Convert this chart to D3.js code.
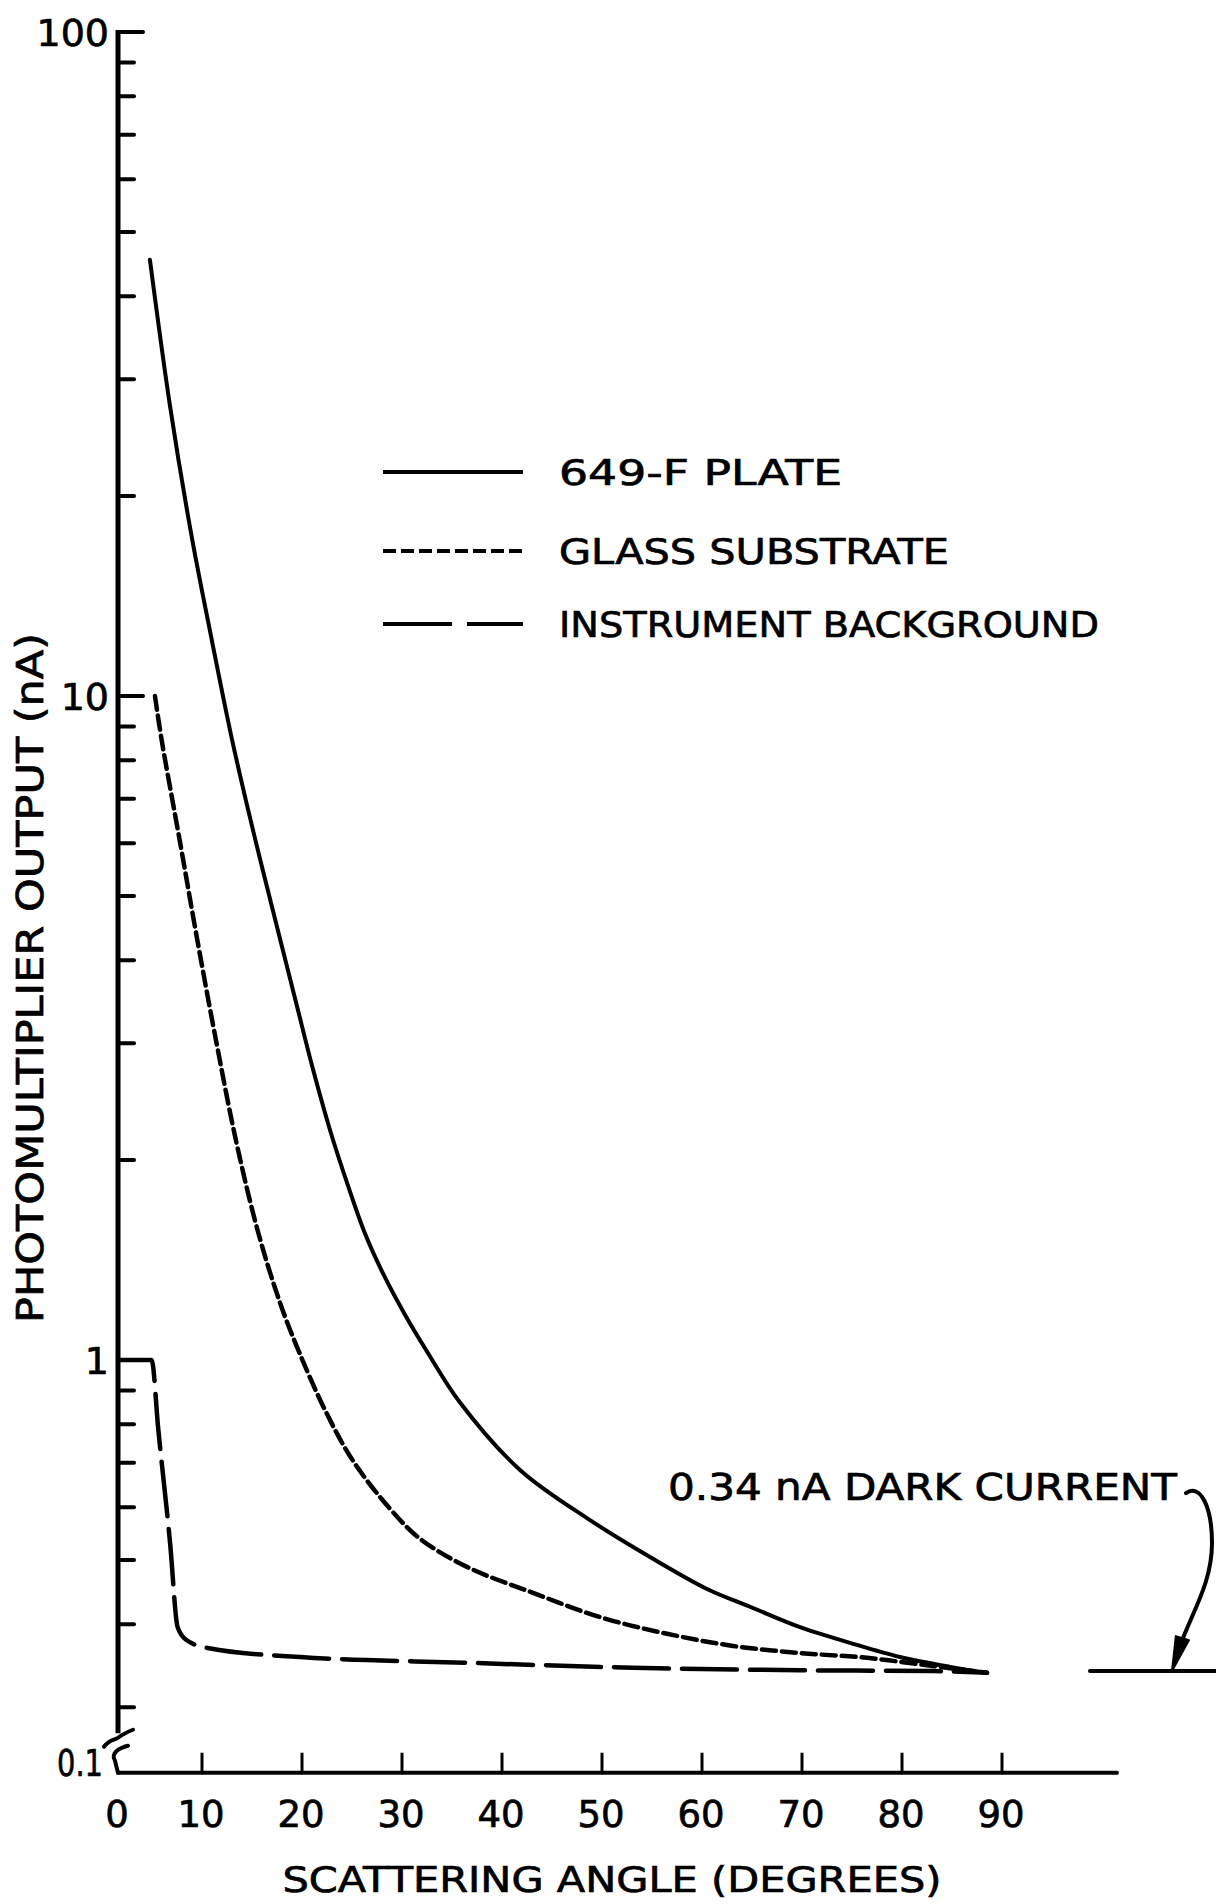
<!DOCTYPE html>
<html>
<head>
<meta charset="utf-8">
<script src="https://cdn.jsdelivr.net/npm/d3@7"></script>
<style>
  body { margin: 0; background: #fff; }
  text { font-family: "DejaVu Sans", sans-serif; fill: #000; stroke: #000; stroke-width: 0.7px; }
</style>
</head>
<body>
<div id="chart"></div>
<script>
// photomultiplier output (nA) against scattering angle (degrees)
const plateAngles = [3.8, 6.2, 8.8, 11.0, 12.9, 14.5, 16.1, 17.8, 19.5, 21.1, 22.8, 24.6, 26.3, 28.1, 30.3, 32.5, 35.8, 41.8, 48.8, 54.8, 60.5, 64.8, 69.8, 74.8, 79.8, 84.8, 88.5];
const plateValues = [45.4, 27.3, 17.3, 12.1, 8.74, 6.85, 5.45, 4.31, 3.41, 2.74, 2.22, 1.83, 1.55, 1.35, 1.17, 1.03, 0.863, 0.683, 0.574, 0.505, 0.452, 0.425, 0.396, 0.375, 0.357, 0.345, 0.338];

const glassAngles = [4.4, 5.2, 7.4, 9.4, 11.4, 13.4, 15.6, 17.8, 19.8, 22.5, 25.1, 28.8, 31.8, 36.5, 43.1, 49.8, 56.5, 63.1, 69.8, 76.5, 83.1, 88.5];
const glassValues = [10.0, 8.58, 6.01, 4.32, 3.03, 2.14, 1.56, 1.22, 1.02, 0.829, 0.705, 0.597, 0.538, 0.488, 0.446, 0.410, 0.387, 0.371, 0.362, 0.356, 0.346, 0.338];

const backgroundAngles = [0, 4.0, 4.8, 6.2, 7.1, 8.1, 10.7, 19.8, 36.5, 53.1, 69.8, 83.1, 88.5];
const backgroundValues = [1.0, 1.0, 0.785, 0.53, 0.396, 0.379, 0.368, 0.357, 0.350, 0.344, 0.341, 0.340, 0.338];

const darkCurrent = 0.34;
const darkCurrentAngles = [98.8, 111.5];
const darkArrowAngle = 107.0;

const xTickValues = [0, 10, 20, 30, 40, 50, 60, 70, 80, 90];
const xAxisEnd = 101.5;
const yMajorTicks = [100, 10, 1];
const yMinorTicks = [0.3, 0.4, 0.5, 0.6, 0.7, 0.8, 0.9, 2, 3, 4, 5, 6, 7, 8, 9, 20, 30, 40, 50, 60, 70, 80, 90];
const yFloor = 0.239;
const yFloorLabel = "0.1";
const yBreakTop = 0.274;

const legendLabels = ["649-F PLATE", "GLASS SUBSTRATE", "INSTRUMENT BACKGROUND"];
const xTitle = "SCATTERING ANGLE (DEGREES)";
const yTitle = "PHOTOMULTIPLIER OUTPUT (nA)";
const darkCurrentLabel = "0.34 nA DARK CURRENT";

const svgWidth = 1216;
const svgHeight = 1904;

const svg = d3.select("#chart")
  .append("svg")
  .attr("width", svgWidth)
  .attr("height", svgHeight);

// hand drawn axis: 0-10 is a bit shorter than the other decades of degrees
const xScale = d3.scaleLinear().domain([0, 10, 90]).range([118, 202, 1002]);
const yScale = d3.scaleLog().domain([1, 100]).range([1360, 32]);

const x0 = xScale(0);
const yF = yScale(yFloor);

// y axis with a break above 0.1
svg.append("line")
  .attr("x1", x0).attr("x2", x0)
  .attr("y1", yScale(100) - 2).attr("y2", yScale(yBreakTop))
  .attr("stroke", "#000").attr("stroke-width", 5);

svg.append("path")
  .attr("d", `M${x0 - 14},${yF - 26} C${x0 - 8},${yF - 34} ${x0 - 4},${yF - 32} ${x0},${yF - 35} S${x0 + 10},${yF - 41} ${x0 + 15},${yF - 43}`)
  .attr("fill", "none").attr("stroke", "#000").attr("stroke-width", 4).attr("stroke-linecap", "round");

svg.append("path")
  .attr("d", `M${x0 + 10},${yF - 27} C${x0 + 2},${yF - 25} ${x0 - 8},${yF - 20} ${x0 - 3},${yF - 12} L${x0},${yF}`)
  .attr("fill", "none").attr("stroke", "#000").attr("stroke-width", 4).attr("stroke-linecap", "round");

svg.selectAll(".ymajor")
  .data(yMajorTicks)
  .enter().append("line")
  .attr("class", "ymajor")
  .attr("x1", x0).attr("x2", x0 + 25)
  .attr("y1", d => yScale(d)).attr("y2", d => yScale(d))
  .attr("stroke", "#000").attr("stroke-width", 4).attr("stroke-linecap", "round");

svg.selectAll(".yminor")
  .data(yMinorTicks)
  .enter().append("line")
  .attr("class", "yminor")
  .attr("x1", x0).attr("x2", x0 + 16)
  .attr("y1", d => yScale(d)).attr("y2", d => yScale(d))
  .attr("stroke", "#000").attr("stroke-width", 4).attr("stroke-linecap", "round");

svg.selectAll(".ylabel")
  .data(yMajorTicks)
  .enter().append("text")
  .attr("class", "ylabel")
  .attr("x", x0 - 9)
  .attr("y", d => yScale(d))
  .attr("dy", "0.36em")
  .attr("text-anchor", "end")
  .attr("font-size", 38)
  .text(d => d3.format("d")(d));

svg.append("text")
  .attr("x", x0 - 15)
  .attr("y", yF + 3)
  .attr("text-anchor", "end")
  .attr("font-size", 37)
  .attr("textLength", 46)
  .attr("lengthAdjust", "spacingAndGlyphs")
  .text(yFloorLabel);

// x axis
svg.append("line")
  .attr("x1", x0).attr("x2", xScale(xAxisEnd))
  .attr("y1", yF).attr("y2", yF)
  .attr("stroke", "#000").attr("stroke-width", 4).attr("stroke-linecap", "round");

svg.selectAll(".xtick")
  .data(xTickValues.filter(d => d > 0))
  .enter().append("line")
  .attr("class", "xtick")
  .attr("x1", d => xScale(d)).attr("x2", d => xScale(d))
  .attr("y1", yF).attr("y2", yF - 20)
  .attr("stroke", "#000").attr("stroke-width", 3);

svg.selectAll(".xlabel")
  .data(xTickValues)
  .enter().append("text")
  .attr("class", "xlabel")
  .attr("x", d => xScale(d) - 1)
  .attr("y", yF + 54)
  .attr("text-anchor", "middle")
  .attr("font-size", 37)
  .text(d => d);

svg.append("text")
  .attr("x", 612)
  .attr("y", 1892)
  .attr("text-anchor", "middle")
  .attr("font-size", 36)
  .attr("textLength", 659)
  .attr("lengthAdjust", "spacingAndGlyphs")
  .text(xTitle);

svg.append("text")
  .attr("transform", "translate(43,978) rotate(-90)")
  .attr("text-anchor", "middle")
  .attr("font-size", 37)
  .attr("textLength", 690)
  .attr("lengthAdjust", "spacingAndGlyphs")
  .text(yTitle);

// curves
const smoothLine = d3.line()
  .x(d => xScale(d[0]))
  .y(d => yScale(d[1]))
  .curve(d3.curveCatmullRom.alpha(0.5));

const stepLine = d3.line()
  .x(d => xScale(d[0]))
  .y(d => yScale(d[1]))
  .curve(d3.curveMonotoneX);

const series = [
  { angles: plateAngles, values: plateValues, dash: null, width: 4, line: smoothLine },
  { angles: glassAngles, values: glassValues, dash: "14 6", width: 4.5, line: smoothLine },
  { angles: backgroundAngles, values: backgroundValues, dash: "55 13", width: 4.5, line: stepLine }
];

svg.selectAll(".curve")
  .data(series)
  .enter().append("path")
  .attr("class", "curve")
  .attr("d", s => s.line(d3.zip(s.angles, s.values)))
  .attr("fill", "none")
  .attr("stroke", "#000")
  .attr("stroke-width", s => s.width)
  .attr("stroke-dasharray", s => s.dash)
  .attr("stroke-linecap", "round");

// dark current level
svg.append("line")
  .attr("x1", xScale(darkCurrentAngles[0])).attr("x2", xScale(darkCurrentAngles[1]))
  .attr("y1", yScale(darkCurrent)).attr("y2", yScale(darkCurrent))
  .attr("stroke", "#000").attr("stroke-width", 4).attr("stroke-linecap", "round");

svg.append("text")
  .attr("x", 668)
  .attr("y", 1500)
  .attr("font-size", 37)
  .attr("textLength", 509)
  .attr("lengthAdjust", "spacingAndGlyphs")
  .text(darkCurrentLabel);

const tx = xScale(darkArrowAngle);
const ty = yScale(darkCurrent);
svg.append("path")
  .attr("d", `M${tx + 14},${ty - 178} C${tx + 28},${ty - 188} ${tx + 40},${ty - 165} ${tx + 40},${ty - 128} C${tx + 40},${ty - 90} ${tx + 22},${ty - 62} ${tx + 9},${ty - 28}`)
  .attr("fill", "none").attr("stroke", "#000").attr("stroke-width", 4).attr("stroke-linecap", "round");

svg.append("path")
  .attr("d", `M${tx},${ty} L${tx + 3.8},${ty - 35} L${tx + 17},${ty - 31} Z`)
  .attr("fill", "#000").attr("stroke", "#000").attr("stroke-width", 2).attr("stroke-linejoin", "round");

// legend
const legendY = [472, 551, 624];
const legendDash = [null, "13 5", "69 15"];
const legendWidths = [283, 390, 540];

const legend = svg.selectAll(".legend")
  .data(legendLabels)
  .enter().append("g")
  .attr("class", "legend")
  .attr("transform", (d, i) => `translate(0,${legendY[i]})`);

legend.append("line")
  .attr("x1", 383).attr("x2", 523)
  .attr("y1", 0).attr("y2", 0)
  .attr("stroke", "#000").attr("stroke-width", 4)
  .attr("stroke-dasharray", (d, i) => legendDash[i]);

legend.append("text")
  .attr("x", 559)
  .attr("y", 13)
  .attr("font-size", 36)
  .attr("textLength", (d, i) => legendWidths[i])
  .attr("lengthAdjust", "spacingAndGlyphs")
  .text(d => d);
</script>
</body>
</html>
